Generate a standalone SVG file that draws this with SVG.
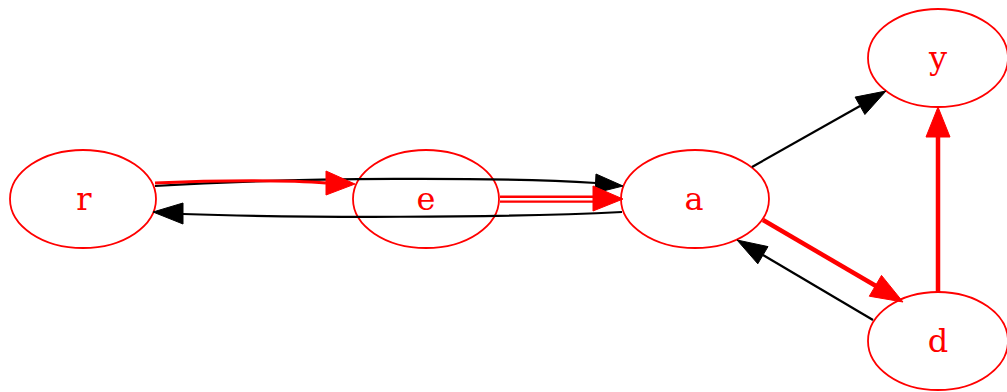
<svg xmlns="http://www.w3.org/2000/svg" width="1007" height="392" viewBox="0 0 1007 392">
<style>
.node ellipse{fill:none;stroke:#ff0000;stroke-width:1.8}
.node text{font-family:"DejaVu Serif","Liberation Serif",serif;font-size:32px;fill:#ff0000;text-anchor:middle}
.blk{fill:none;stroke:#000;stroke-width:2.2}
.red{fill:none;stroke:#ff0000;stroke-width:4.5}
.redt{fill:none;stroke:#ff0000;stroke-width:3.2}
.ahb{fill:#000;stroke:#000;stroke-width:1}
.ahr{fill:#ff0000;stroke:#ff0000;stroke-width:1}
</style>
<rect width="1007" height="392" fill="#fff"/>
<g id="nodes">
<g id="node-r" class="node"><ellipse cx="83" cy="199" rx="73" ry="49"/><text x="84" y="210">r</text></g>
<g id="node-e" class="node"><ellipse cx="426" cy="199" rx="73" ry="49"/><text x="426" y="210">e</text></g>
<g id="node-a" class="node"><ellipse cx="695" cy="199" rx="74" ry="49"/><text x="694" y="210">a</text></g>
<g id="node-y" class="node"><ellipse cx="938" cy="58" rx="70" ry="49"/><text x="938" y="69">y</text></g>
<g id="node-d" class="node"><ellipse cx="938" cy="341" rx="70" ry="49"/><text x="938" y="352">d</text></g>
</g>
<g id="connectors">
<path class="blk" d="M155,186 C300,177 500,177 596,183"/>
<polygon class="ahb" points="596,174 623,186 595,193"/>
<path class="blk" d="M622,212 C500,218 300,218 183,214"/>
<polygon class="ahb" points="183,203 153,212 183,224"/>
<path class="redt" d="M155,183 C220,180 290,180 326,183"/>
<polygon class="ahr" points="326,171 355,184 326,195"/>
<path fill="none" stroke="#ff0000" stroke-width="2.4" d="M500,196.8 L593,196.8 M500,201.6 L593,201.6"/>
<polygon class="ahr" points="593,186 623,199 593,211"/>
<path class="blk" d="M752,167 L860,106"/>
<polygon class="ahb" points="864.9,114.5 886,91 855.1,97.1"/>
<path class="red" d="M763,220 L876,286"/>
<polygon class="ahr" points="869.3,296.2 903,302 881.5,275.4"/>
<path class="blk" d="M873,320 L763,255"/>
<polygon class="ahb" points="768,246.6 737,240 757.8,263.8"/>
<path class="red" d="M938,293 L938,137"/>
<polygon class="ahr" points="926,137 938,107 950,137"/>
</g>
</svg>
